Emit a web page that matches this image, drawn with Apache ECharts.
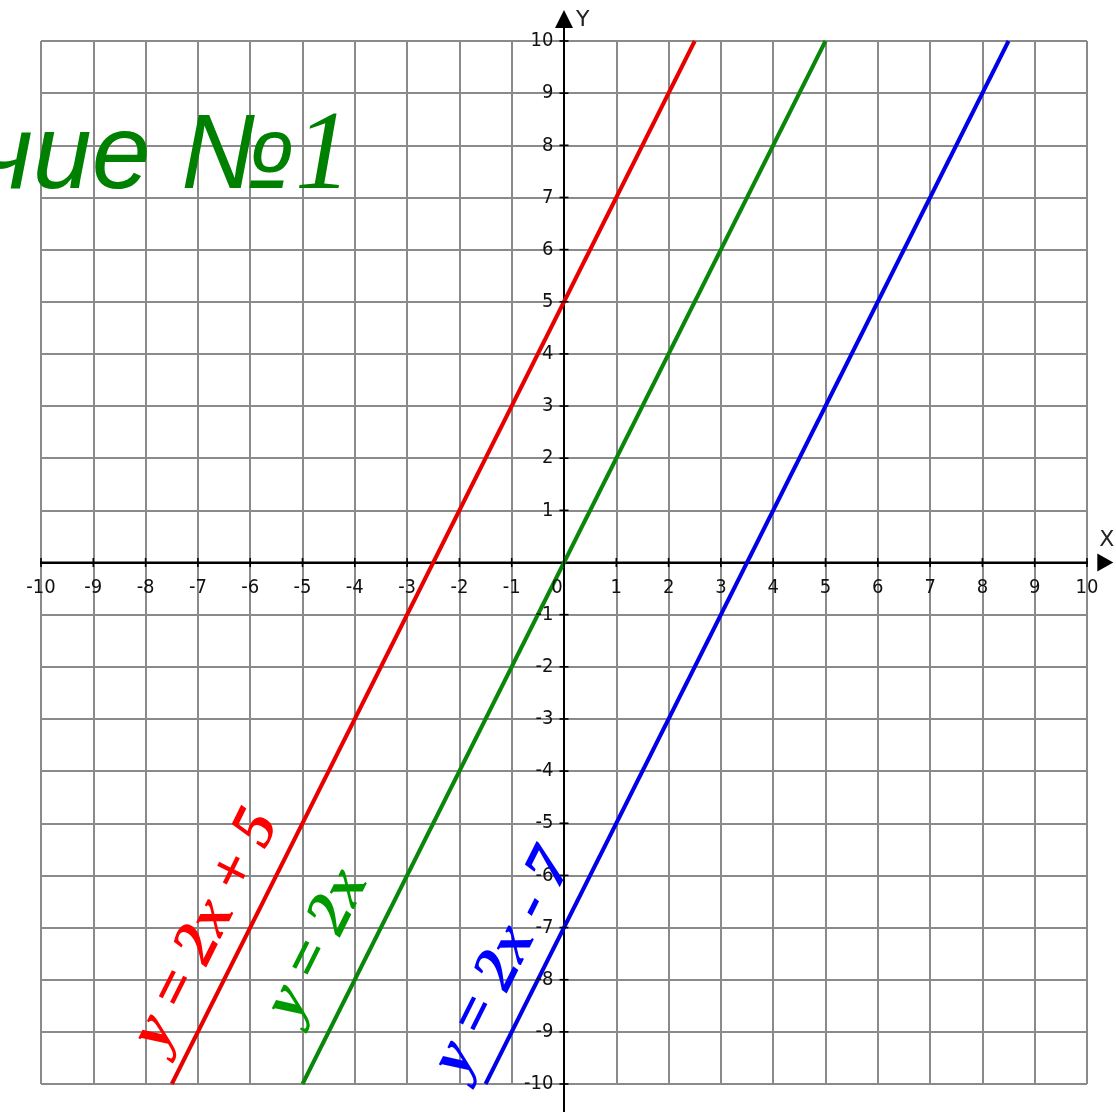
<!DOCTYPE html>
<html><head><meta charset="utf-8">
<script src="https://cdn.jsdelivr.net/npm/echarts@6/dist/echarts.min.js"></script>
<style>html,body{margin:0;padding:0;background:#fff}#c{width:1116px;height:1112px}</style>
</head><body><div id="c"></div>
<script>
// ---- data ----
const axisMin = -10, axisMax = 10, axisStep = 1;
const tickValues = [-10, -9, -8, -7, -6, -5, -4, -3, -2, -1, 0, 1, 2, 3, 4, 5, 6, 7, 8, 9, 10];
const redLineX = [-7.5, 2.5],  redLineY = [-10, 10];
const greenLineX = [-5, 5],    greenLineY = [-10, 10];
const blueLineX = [-1.5, 8.5], blueLineY = [-10, 10];
const xAxisLineX = [-10.6, 10.35];
const yAxisLineY = [-10.6, 10.42];
const formulaTexts = ['y = 2x + 5', 'y = 2x', 'y = 2x - 7'];
const formulaX = [-6.83, -4.70, -1.15];
const formulaY = [-7.04, -7.32, -7.67];
const titleParts = ['чие №', '1'];
const axisNames = ['X', 'Y'];
const axisNameX = [10.38, 0.36];
const axisNameY = [0.42, 10.4];

const RED = '#e60000', GREEN = '#0a870a', BLUE = '#0000e6';
const ANGLE = Math.atan(2) * 180 / Math.PI;

function pts(xs, ys) { return xs.map((x, i) => [x, ys[i]]); }

const chart = echarts.init(document.getElementById('c'), null, {renderer: 'canvas'});
const labelFont = '"Liberation Sans Narrow", "DejaVu Sans Condensed", "Liberation Sans", sans-serif';
const tickTextStyle = {fontFamily: labelFont, fontSize: 20, color: '#111'};

const valueAxisBase = {
  type: 'value', min: axisMin, max: axisMax, interval: axisStep,
  axisLine: {show: true, onZero: true, lineStyle: {color: '#000', width: 2}},
  axisTick: {show: false},
  axisLabel: {show: false},
  splitLine: {show: true, lineStyle: {color: '#8a8a8a', width: 2}}
};

const formulaSeries = formulaTexts.map((t, i) => ({
  type: 'scatter', symbolSize: 0, silent: true, z: 10, clip: false,
  itemStyle: {opacity: 1},
  data: [[formulaX[i], formulaY[i]]],
  label: {
    show: true, position: 'inside', formatter: t, rotate: ANGLE, opacity: 1,
    fontFamily: '"Liberation Serif", "Times New Roman", serif',
    fontStyle: 'italic', fontWeight: 'bold', fontSize: 63,
    color: ['#ff0000', '#009a00', '#0000ff'][i]
  }
}));

function lineSeries(xs, ys, color) {
  return {type: 'line', data: pts(xs, ys), showSymbol: false, symbol: 'none', silent: true,
          lineStyle: {color: color, width: 4}, z: 5};
}

const xAxisData = pts(xAxisLineX, [0, 0]).map((p, i) => i === 0 ? {value: p, symbol: 'none'} :
  {value: p, symbol: 'triangle', symbolSize: [18, 16], symbolRotate: -90});
const yAxisData = pts([0, 0], yAxisLineY).map((p, i) => i === 0 ? {value: p, symbol: 'none'} :
  {value: p, symbol: 'triangle', symbolSize: [18, 18]});

// tick marks + tick labels (drawn at tick values on the axes)
const xTickSeries = {
  type: 'scatter', silent: true, z: 6, symbol: 'rect', symbolSize: [1.6, 9], clip: false,
  itemStyle: {color: '#000', opacity: 1},
  data: tickValues.map(v => [v, 0]),
  label: Object.assign({show: true, position: 'bottom', distance: 11,
    formatter: p => String(p.value[0]),
    opacity: 1}, tickTextStyle),
  labelLayout: p => (p.dataIndex === tickValues.indexOf(0) ? {dx: -7} : {})
};
const yTickVals = tickValues.filter(v => v !== 0);
const yTickSeries = {
  type: 'scatter', silent: true, z: 6, symbol: 'rect', symbolSize: [9, 1.6], clip: false,
  itemStyle: {color: '#000', opacity: 1},
  data: yTickVals.map(v => [0, v]),
  label: Object.assign({show: true, position: 'left', distance: 6,
    formatter: p => String(p.value[1]), opacity: 1}, tickTextStyle)
};
const nameSeries = {
  type: 'scatter', silent: true, z: 6, symbolSize: 0, clip: false,
  itemStyle: {opacity: 1},
  data: axisNames.map((n, i) => ({value: [axisNameX[i], axisNameY[i]], name: n})),
  label: Object.assign({show: true, position: 'inside', formatter: p => p.name, opacity: 1},
    tickTextStyle, {fontSize: 22, fontFamily: '"DejaVu Sans", sans-serif', fontWeight: 'normal', color: '#222'})
};

chart.setOption({
  animation: false,
  backgroundColor: '#fff',
  title: {
    left: -27, top: 98,
    text: '{a|' + titleParts[0] + '}{b|' + titleParts[1] + '}',
    textStyle: {
      fontWeight: 'normal',
      rich: {
        a: {fontFamily: '"Liberation Sans", Arial, sans-serif', fontStyle: 'italic', fontWeight: 'normal', fontSize: 106, color: '#008000'},
        b: {fontFamily: '"Liberation Serif", "Times New Roman", serif', fontStyle: 'italic', fontWeight: 'normal', fontSize: 112, color: '#008000'}
      }
    }
  },
  grid: {left: 41, right: 29, top: 41, bottom: 28, containLabel: false, outerBoundsMode: 'none'},
  xAxis: Object.assign({}, valueAxisBase),
  yAxis: Object.assign({}, valueAxisBase),
  series: [
    {type: 'line', data: xAxisData, silent: true, clip: false, z: 4,
     lineStyle: {color: '#000', width: 2}, itemStyle: {color: '#000'}, showSymbol: true},
    {type: 'line', data: yAxisData, silent: true, clip: false, z: 4,
     lineStyle: {color: '#000', width: 2}, itemStyle: {color: '#000'}, showSymbol: true},
    lineSeries(redLineX, redLineY, RED),
    lineSeries(greenLineX, greenLineY, GREEN),
    lineSeries(blueLineX, blueLineY, BLUE),
    xTickSeries, yTickSeries, nameSeries
  ].concat(formulaSeries)
});
</script></body></html>
